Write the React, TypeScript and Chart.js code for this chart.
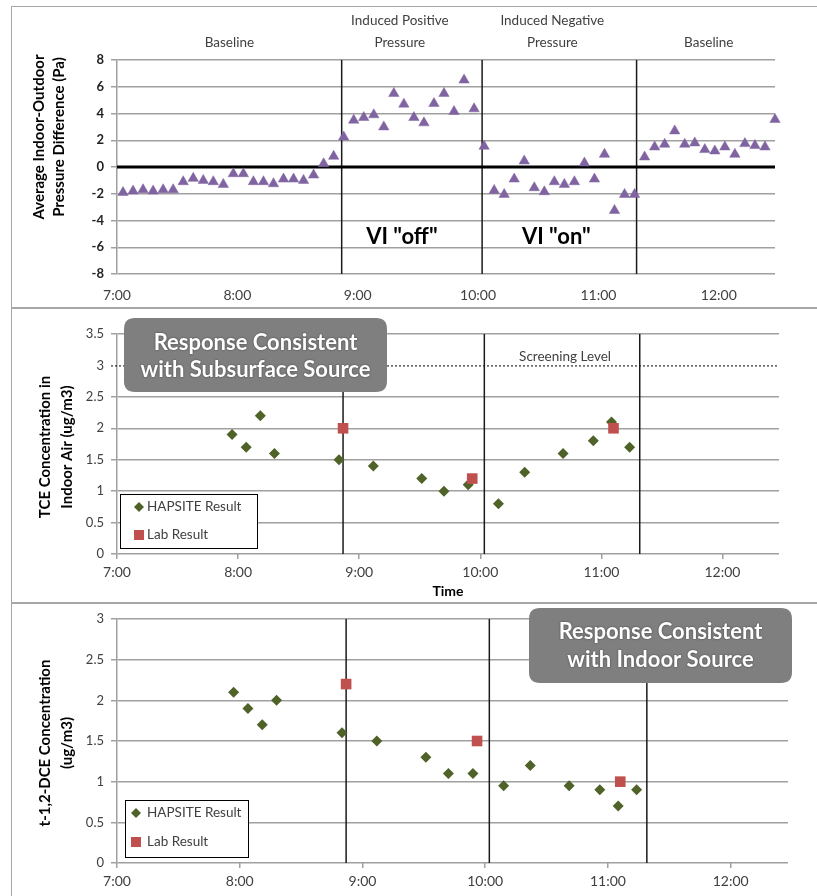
import React, { useEffect, useRef } from "react";
import { Chart, registerables } from "chart.js";
Chart.register(...registerables);

const FONT = "Lato, 'Open Sans', sans-serif";
const TEXT = "#404040";
const GRID = "#a0a0a0";

// ---------- shared axis data ----------
const X_TICK_LABELS = ["7:00", "8:00", "9:00", "10:00", "11:00", "12:00"];
const X_MIN = "7:00";
const X_MAX = "12:28";
const PHASE_BOUNDARIES = ["8:52", "10:02", "11:19"];

// ---------- panel 1: pressure difference ----------
const PRESSURE_TIMES = [
  "7:03", "7:08", "7:13", "7:18", "7:23", "7:28", "7:33", "7:38", "7:43", "7:48", "7:53", "7:58",
  "8:03", "8:08", "8:13", "8:18", "8:23", "8:28", "8:33", "8:38", "8:43", "8:48", "8:53", "8:58",
  "9:03", "9:08", "9:13", "9:18", "9:23", "9:28", "9:33", "9:38", "9:43", "9:48", "9:53", "9:58",
  "10:03", "10:08", "10:13", "10:18", "10:23", "10:28", "10:33", "10:38", "10:43", "10:48", "10:53", "10:58",
  "11:03", "11:08", "11:13", "11:18", "11:23", "11:28", "11:33", "11:38", "11:43", "11:48", "11:53", "11:58",
  "12:03", "12:08", "12:13", "12:18", "12:23", "12:28",
];
const PRESSURE_VALUES = [
  -1.9, -1.8, -1.7, -1.8, -1.7, -1.7, -1.1, -0.85, -1.0, -1.1, -1.3, -0.5,
  -0.5, -1.1, -1.1, -1.25, -0.9, -0.9, -1.0, -0.6, 0.25, 0.8, 2.25, 3.5,
  3.7, 3.9, 3.0, 5.5, 4.7, 3.7, 3.3, 4.75, 5.5, 4.15, 6.5, 4.35,
  1.55, -1.75, -2.05, -0.9, 0.45, -1.55, -1.85, -1.1, -1.3, -1.1, 0.3, -0.9,
  0.95, -3.25, -2.05, -2.05, 0.75, 1.5, 1.7, 2.7, 1.7, 1.8, 1.3, 1.2,
  1.5, 0.95, 1.75, 1.6, 1.5, 3.55,
];
const PRESSURE_TICKS = [-8, -6, -4, -2, 0, 2, 4, 6, 8];
const PHASE_NAMES = [["Baseline"], ["Induced Positive", "Pressure"], ["Induced Negative", "Pressure"], ["Baseline"]];
const PHASE_CENTERS = ["7:56", "9:21", "10:37", "11:55"];
const VI_LABELS = ['VI "off"', 'VI "on"'];
const VI_CENTERS = ["9:22", "10:39"];
const VI_LEVEL = -5.2;

// ---------- panels 2 & 3: concentrations ----------
const HAPSITE_TIMES = ["7:57", "8:04", "8:11", "8:18", "8:50", "9:07", "9:31", "9:42", "9:54", "10:09", "10:22", "10:41", "10:56", "11:05", "11:14"];
const LAB_TIMES = ["8:52", "9:56", "11:06"];
const TCE_HAPSITE = [1.9, 1.7, 2.2, 1.6, 1.5, 1.4, 1.2, 1.0, 1.1, 0.8, 1.3, 1.6, 1.8, 2.1, 1.7];
const TCE_LAB = [2.0, 1.2, 2.0];
const TCE_TICKS = [0, 0.5, 1, 1.5, 2, 2.5, 3, 3.5];
const SCREENING_LEVEL = 3;
const SCREENING_LABEL_AT = "10:42";
const DCE_HAPSITE = [2.1, 1.9, 1.7, 2.0, 1.6, 1.5, 1.3, 1.1, 1.1, 0.95, 1.2, 0.95, 0.9, 0.7, 0.9];
const DCE_LAB = [2.2, 1.5, 1.0];
const DCE_TICKS = [0, 0.5, 1, 1.5, 2, 2.5, 3];

const SERIES_NAMES = ["HAPSITE Result", "Lab Result"];
const PURPLE = "#8064A2";
const GREEN = "#4F6228";
const RED = "#C0504D";

const hm = (s: string) => {
  const [h, m] = s.split(":").map(Number);
  return (h - 7) * 60 + m;
};
const X_TICK_VALUES = X_TICK_LABELS.map(hm);
const pts = (times: string[], vals: number[]) => times.map((t, i) => ({ x: hm(t), y: vals[i] }));

const W = 817;

function drawVTitle(ctx: CanvasRenderingContext2D, lines: string[], xs: number[], yc: number) {
  ctx.save();
  ctx.font = `bold 15px ${FONT}`;
  ctx.fillStyle = "#000";
  ctx.textAlign = "center";
  ctx.textBaseline = "middle";
  lines.forEach((l, i) => {
    ctx.save();
    ctx.translate(xs[i], yc);
    ctx.rotate(-Math.PI / 2);
    ctx.fillText(l, 0, 0);
    ctx.restore();
  });
  ctx.restore();
}

function drawPhaseLines(chart: any) {
  const { ctx, chartArea, scales } = chart;
  ctx.save();
  ctx.strokeStyle = "#1a1a1a";
  ctx.lineWidth = 1.5;
  PHASE_BOUNDARIES.forEach((t) => {
    const x = scales.x.getPixelForValue(hm(t));
    ctx.beginPath();
    ctx.moveTo(x, chartArea.top);
    ctx.lineTo(x, chartArea.bottom);
    ctx.stroke();
  });
  ctx.restore();
}

function roundRect(ctx: CanvasRenderingContext2D, x: number, y: number, w: number, h: number, r: number) {
  ctx.beginPath();
  ctx.moveTo(x + r, y);
  ctx.lineTo(x + w - r, y);
  ctx.quadraticCurveTo(x + w, y, x + w, y + r);
  ctx.lineTo(x + w, y + h - r);
  ctx.quadraticCurveTo(x + w, y + h, x + w - r, y + h);
  ctx.lineTo(x + r, y + h);
  ctx.quadraticCurveTo(x, y + h, x, y + h - r);
  ctx.lineTo(x, y + r);
  ctx.quadraticCurveTo(x, y, x + r, y);
  ctx.closePath();
}

function drawCallout(ctx: CanvasRenderingContext2D, lines: string[], x: number, y: number, w: number, h: number, ys: number[]) {
  ctx.save();
  ctx.fillStyle = "#7f7f7f";
  roundRect(ctx, x, y, w, h, 11);
  ctx.fill();
  ctx.font = `bold 22px ${FONT}`;
  ctx.fillStyle = "#fff";
  ctx.textAlign = "center";
  ctx.textBaseline = "middle";
  ctx.shadowColor = "rgba(0,0,0,0.55)";
  ctx.shadowBlur = 2;
  lines.forEach((l, i) => ctx.fillText(l, x + w / 2, ys[i]));
  ctx.restore();
}

function drawLegend(chart: any, x: number, y: number, w: number, h: number, markerX: number, textX: number, ys: number[]) {
  const { ctx } = chart;
  ctx.save();
  ctx.fillStyle = "#fff";
  ctx.fillRect(x, y, w, h);
  ctx.strokeStyle = "#000";
  ctx.lineWidth = 1;
  ctx.strokeRect(x + 0.5, y + 0.5, w, h);
  SERIES_NAMES.forEach((name, i) => {
    const ds = chart.data.datasets[i];
    ctx.fillStyle = ds.backgroundColor;
    ctx.beginPath();
    if (ds.pointStyle === "rectRot") {
      const r = 5;
      ctx.moveTo(markerX, ys[i] - r);
      ctx.lineTo(markerX + r, ys[i]);
      ctx.lineTo(markerX, ys[i] + r);
      ctx.lineTo(markerX - r, ys[i]);
      ctx.closePath();
      ctx.fill();
    } else {
      ctx.fillRect(markerX - 5, ys[i] - 5, 10, 10);
    }
    ctx.font = `13.5px ${FONT}`;
    ctx.fillStyle = TEXT;
    ctx.textAlign = "left";
    ctx.textBaseline = "middle";
    ctx.fillText(name, textX, ys[i]);
  });
  ctx.restore();
}

type PanelSpec = {
  height: number;
  plotTop: number;
  plotBottom: number;
  plotRight: number;
  yMin: number;
  yMax: number;
  yTicks: number[];
  yBold: boolean;
  xTickMarks: boolean;
  xPad: number;
  datasets: any[];
  hideGridAt?: number;
  plugin: any;
};

function buildConfig(p: PanelSpec): any {
  const plotLeft = 117;
  return {
    type: "scatter",
    data: { datasets: p.datasets },
    options: {
      responsive: false,
      animation: false,
      devicePixelRatio: 1,
      layout: { padding: { left: 0, top: p.plotTop, right: W - p.plotRight, bottom: 0 } },
      plugins: { legend: { display: false }, tooltip: { enabled: false } },
      scales: {
        x: {
          type: "linear",
          min: hm(X_MIN),
          max: hm(X_MAX),
          afterFit: (s: any) => {
            s.height = p.height - p.plotBottom;
          },
          afterBuildTicks: (s: any) => {
            s.ticks = X_TICK_VALUES.map((v) => ({ value: v }));
          },
          ticks: {
            autoSkip: false,
            maxRotation: 0,
            padding: p.xPad,
            color: TEXT,
            font: { family: FONT, size: 14 },
            callback: (v: number) => X_TICK_LABELS[X_TICK_VALUES.indexOf(v)] ?? "",
          },
          grid: {
            display: p.xTickMarks,
            drawOnChartArea: false,
            drawTicks: p.xTickMarks,
            tickLength: 5,
            color: GRID,
            lineWidth: 1.5,
          },
          border: { display: false },
        },
        y: {
          type: "linear",
          min: p.yMin,
          max: p.yMax,
          afterFit: (s: any) => {
            s.width = plotLeft;
          },
          afterBuildTicks: (s: any) => {
            s.ticks = p.yTicks.map((v) => ({ value: v }));
          },
          ticks: {
            padding: 7,
            color: p.yBold ? "#222" : TEXT,
            font: { family: FONT, size: 13, weight: p.yBold ? "bold" : "normal" },
            callback: (v: number) => String(v),
          },
          grid: {
            color: (c: any) => (p.hideGridAt !== undefined && c.tick && c.tick.value === p.hideGridAt ? "rgba(0,0,0,0)" : GRID),
            lineWidth: 1.5,
            tickLength: 6,
          },
          border: { display: true, color: GRID, width: 1.5 },
        },
      },
    },
    plugins: [p.plugin],
  };
}

// ---------- panel specs ----------
const panel1: PanelSpec = {
  height: 308,
  plotTop: 60,
  plotBottom: 274,
  plotRight: 775,
  yMin: -8,
  yMax: 8,
  yTicks: PRESSURE_TICKS,
  yBold: true,
  xTickMarks: false,
  xPad: 13,
  datasets: [
    {
      label: "Pressure",
      data: pts(PRESSURE_TIMES, PRESSURE_VALUES),
      pointStyle: "triangle",
      pointRadius: 6,
      backgroundColor: PURPLE,
      borderColor: PURPLE,
      borderWidth: 0.5,
      showLine: false,
      clip: false,
    },
  ],
  plugin: {
    id: "p1",
    beforeDatasetsDraw(chart: any) {
      const { ctx, chartArea, scales } = chart;
      drawPhaseLines(chart);
      const y0 = scales.y.getPixelForValue(0);
      ctx.save();
      ctx.strokeStyle = "#000";
      ctx.lineWidth = 3;
      ctx.beginPath();
      ctx.moveTo(chartArea.left, y0);
      ctx.lineTo(chartArea.right, y0);
      ctx.stroke();
      ctx.restore();
    },
    afterDraw(chart: any) {
      const { ctx, scales } = chart;
      ctx.save();
      ctx.font = `13.5px ${FONT}`;
      ctx.fillStyle = TEXT;
      ctx.textAlign = "center";
      ctx.textBaseline = "middle";
      PHASE_NAMES.forEach((lines, i) => {
        const x = scales.x.getPixelForValue(hm(PHASE_CENTERS[i]));
        lines.forEach((l, j) => {
          const y = 43 - (lines.length - 1 - j) * 22;
          ctx.fillText(l, x, y);
        });
      });
      ctx.font = `bold 22px ${FONT}`;
      ctx.fillStyle = "#000";
      VI_LABELS.forEach((l, i) => {
        ctx.fillText(l, scales.x.getPixelForValue(hm(VI_CENTERS[i])), scales.y.getPixelForValue(VI_LEVEL));
      });
      ctx.restore();
      drawVTitle(ctx, ["Average Indoor-Outdoor", "Pressure Difference (Pa)"], [39, 59], 137);
    },
  },
};

const hapsiteDs = (vals: number[]) => ({
  label: SERIES_NAMES[0],
  data: pts(HAPSITE_TIMES, vals),
  pointStyle: "rectRot",
  pointRadius: 5.5,
  backgroundColor: GREEN,
  borderColor: GREEN,
  borderWidth: 0,
  showLine: false,
  clip: false,
  order: 1,
});
const labDs = (vals: number[]) => ({
  label: SERIES_NAMES[1],
  data: pts(LAB_TIMES, vals),
  pointStyle: "rect",
  pointRadius: 7.5,
  backgroundColor: RED,
  borderColor: RED,
  borderWidth: 0,
  showLine: false,
  clip: false,
  order: 0,
});

const panel2: PanelSpec = {
  height: 295,
  plotTop: 26,
  plotBottom: 246,
  plotRight: 779,
  yMin: 0,
  yMax: 3.5,
  yTicks: TCE_TICKS,
  yBold: false,
  xTickMarks: true,
  xPad: 5,
  hideGridAt: SCREENING_LEVEL,
  datasets: [hapsiteDs(TCE_HAPSITE), labDs(TCE_LAB)],
  plugin: {
    id: "p2",
    beforeDatasetsDraw(chart: any) {
      const { ctx, chartArea, scales } = chart;
      const ys = scales.y.getPixelForValue(SCREENING_LEVEL);
      ctx.save();
      ctx.strokeStyle = "#000";
      ctx.lineWidth = 1;
      ctx.setLineDash([2, 2]);
      ctx.beginPath();
      ctx.moveTo(chartArea.left - 6, ys + 0.5);
      ctx.lineTo(chartArea.right, ys + 0.5);
      ctx.stroke();
      ctx.restore();
      drawPhaseLines(chart);
    },
    afterDatasetsDraw(chart: any) {
      const { ctx, scales, chartArea } = chart;
      ctx.save();
      ctx.font = `13.5px ${FONT}`;
      ctx.fillStyle = TEXT;
      ctx.textAlign = "center";
      ctx.textBaseline = "bottom";
      ctx.fillText("Screening Level", scales.x.getPixelForValue(hm(SCREENING_LABEL_AT)), scales.y.getPixelForValue(SCREENING_LEVEL) - 2);
      ctx.font = `bold 14px ${FONT}`;
      ctx.fillStyle = "#000";
      ctx.textBaseline = "middle";
      ctx.fillText("Time", (chartArea.left + chartArea.right) / 2, 283);
      ctx.restore();
      drawCallout(ctx, ["Response Consistent", "with Subsurface Source"], 124, 10, 263, 74, [35, 62]);
      drawLegend(chart, 120, 186, 137, 54, 139, 147, [199, 227]);
      drawVTitle(ctx, ["TCE Concentration in", "Indoor Air (ug/m3)"], [45, 67], 139);
    },
  },
};

const panel3: PanelSpec = {
  height: 293,
  plotTop: 16,
  plotBottom: 260,
  plotRight: 788,
  yMin: 0,
  yMax: 3,
  yTicks: DCE_TICKS,
  yBold: false,
  xTickMarks: true,
  xPad: 5,
  datasets: [hapsiteDs(DCE_HAPSITE), labDs(DCE_LAB)],
  plugin: {
    id: "p3",
    beforeDatasetsDraw(chart: any) {
      drawPhaseLines(chart);
    },
    afterDatasetsDraw(chart: any) {
      const { ctx } = chart;
      drawCallout(ctx, ["Response Consistent", "with Indoor Source"], 529, 5, 263, 75, [29, 57]);
      drawLegend(chart, 125, 197, 123, 57, 136, 147, [210, 239]);
      drawVTitle(ctx, ["t-1,2-DCE Concentration", "(ug/m3)"], [45, 67], 140);
    },
  },
};

function Panel({ top, spec }: { top: number; spec: PanelSpec }) {
  const ref = useRef<HTMLCanvasElement | null>(null);
  useEffect(() => {
    if (!ref.current) return;
    const c = new Chart(ref.current, buildConfig(spec));
    return () => c.destroy();
  }, []);
  return (
    <canvas
      ref={ref}
      width={W}
      height={spec.height}
      style={{ position: "absolute", left: 0, top, width: W, height: spec.height }}
    />
  );
}

export default function App() {
  const frame = (top: number, height: number): React.CSSProperties => ({
    position: "absolute",
    left: 11,
    top,
    width: 830,
    height,
    border: "1.5px solid #a6a6a6",
    boxSizing: "border-box",
  });
  return (
    <div style={{ position: "absolute", left: 0, top: 0, width: W, height: 896, overflow: "hidden", background: "#fff" }}>
      <div style={frame(6, 303)} />
      <div style={frame(307, 297)} />
      <div style={frame(602, 310)} />
      <Panel top={0} spec={panel1} />
      <Panel top={308} spec={panel2} />
      <Panel top={603} spec={panel3} />
    </div>
  );
}
